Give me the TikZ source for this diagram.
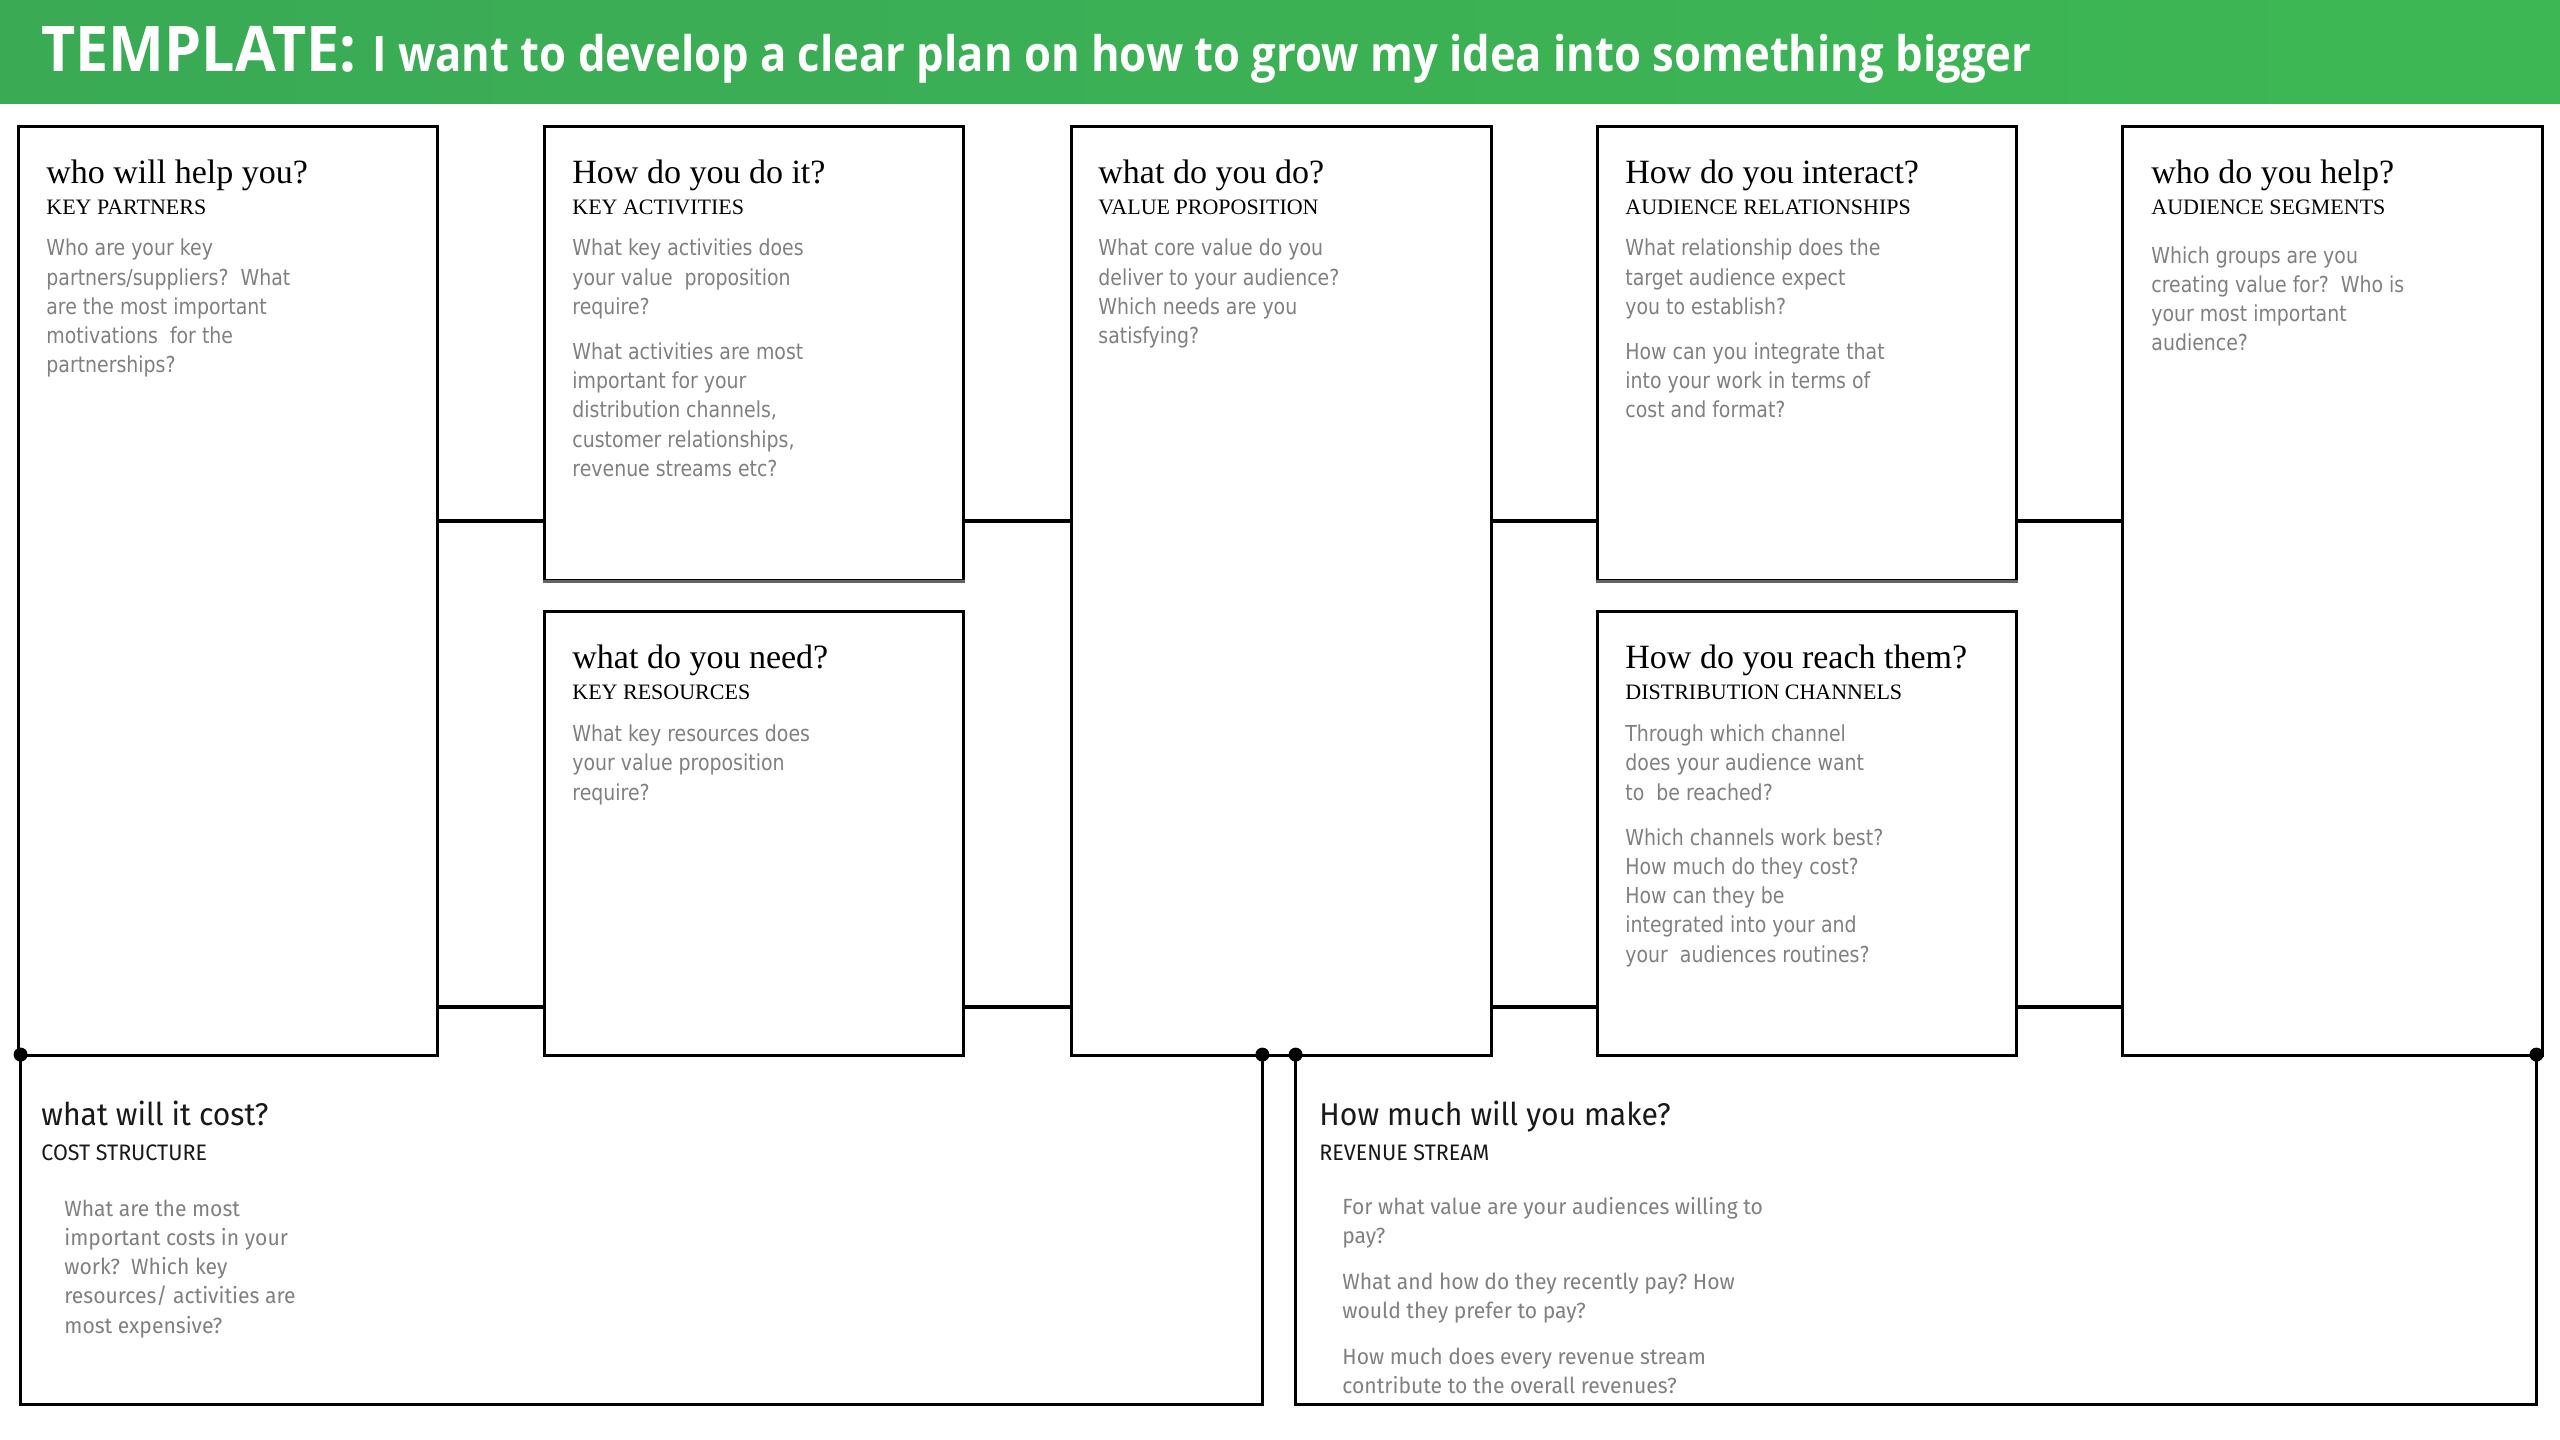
\documentclass[tikz,border=0pt]{standalone}
\usepackage{fontspec}
\usepackage{graphicx}
\usetikzlibrary{fit}

% Typefaces
\newfontfamily\titlefont{Open Sans}
\newfontfamily\headfont{Liberation Serif}
\newfontfamily\bodyfont{DejaVu Sans}[FakeStretch=0.86]
\newfontfamily\lowfont{Fira Sans}[FakeStretch=0.96]

\definecolor{bandleft}{RGB}{58,170,85}
\definecolor{bandright}{RGB}{61,183,84}
\definecolor{bodygray}{RGB}{128,128,128}
\definecolor{softline}{RGB}{100,100,100}

% stacked lines with the first baseline as the node baseline
\newcommand\lns[1]{\begin{tabular}[t]{@{}l@{}}#1\end{tabular}}

\frenchspacing

\begin{document}
\begin{tikzpicture}[x=0.5pt,y=-0.5pt,
  box/.style={draw=black, line width=1.5pt, inner sep=0pt},
  frame/.style={inner sep=0pt},
  link/.style={draw=black, line width=1.7pt},
  rim/.style={draw=black, line width=1.5pt},
  dot/.style={circle, fill=black, inner sep=0pt, minimum size=7pt},
  head/.style={anchor=base west, inner sep=0pt, font=\headfont\fontsize{17}{20}\selectfont},
  sub/.style={anchor=base west, inner sep=0pt, font=\headfont\fontsize{11}{13}\selectfont},
  body/.style={anchor=base west, inner sep=0pt, text=bodygray, font=\bodyfont\fontsize{11}{14.65}\selectfont},
  lowhead/.style={anchor=base west, inner sep=0pt, text=black!90, font=\lowfont\fontsize{15.7}{18}\selectfont},
  lowsub/.style={anchor=base west, inner sep=0pt, text=black!90, font=\lowfont\fontsize{11.2}{13}\selectfont},
  lowbody/.style={anchor=base west, inner sep=0pt, text=bodygray, font=\lowfont\fontsize{11}{14.65}\selectfont}
]
\useasboundingbox (0,0) rectangle (2560,1440);
\fill[white] (0,0) rectangle (2560,1440);

% title band
\shade[left color=bandleft, right color=bandright] (0,0) rectangle (2560,103);
\node[anchor=base west, inner sep=0pt, text=white, font=\titlefont\bfseries\fontsize{31.5}{36}\selectfont]
  (t1) at (41,71) {\resizebox{157.5pt}{\height}{TEMPLATE:}};
\node[anchor=base west, inner sep=0pt, text=white, font=\titlefont\bfseries\fontsize{24.5}{28}\selectfont]
  (t2) at (372,71) {\resizebox{829.5pt}{\height}{I want to develop a clear plan on how to grow my idea into something bigger}};

% canvas blocks
\node[box, fit={(18,126) (437,1055)}] (kp) {};
\node[box, fit={(544,126) (963,580)}] (ka) {};
\node[box, fit={(544,611) (963,1055)}] (kr) {};
\node[box, fit={(1071,126) (1491,1055)}] (vp) {};
\node[box, fit={(1597,126) (2016,580)}] (cr) {};
\node[box, fit={(1597,611) (2016,1055)}] (dc) {};
\node[box, fit={(2122,126) (2542,1055)}] (cs) {};
\draw[softline, line width=1.6pt] (ka.south west) -- (ka.south east);
\draw[softline, line width=1.6pt] (cr.south west) -- (cr.south east);

% links between blocks
\coordinate (upper) at (0,521);
\coordinate (lower) at (0,1007);
\draw[link] (kp.east |- upper) -- (ka.west |- upper);
\draw[link] (ka.east |- upper) -- (vp.west |- upper);
\draw[link] (vp.east |- upper) -- (cr.west |- upper);
\draw[link] (cr.east |- upper) -- (cs.west |- upper);
\draw[link] (kp.east |- lower) -- (kr.west |- lower);
\draw[link] (kr.east |- lower) -- (vp.west |- lower);
\draw[link] (vp.east |- lower) -- (dc.west |- lower);
\draw[link] (dc.east |- lower) -- (cs.west |- lower);

% lower blocks, open at the top
\node[frame, fit={(21,1055) (1262,1404)}] (cost) {};
\node[frame, fit={(1296,1055) (2536,1404)}] (rev) {};
\draw[rim] (cost.north west) |- (cost.south east) -- (cost.north east);
\draw[rim] (rev.north west) |- (rev.south east) -- (rev.north east);
\node[dot] (d1) at (cost.north west) {};
\node[dot] (d2) at (cost.north east) {};
\node[dot] (d3) at (rev.north west) {};
\node[dot] (d4) at (rev.north east) {};

% key partners
\node[head] (kph) at (46,183) {who will help you?};
\node[sub] (kps) at (46,214.5) {KEY PARTNERS};
\node[body] (kpb) at (46,255.7) {\lns{Who are your key\\partners/suppliers?\ \ What\\are the most important\\motivations\ \ for the\\partnerships?}};

% key activities
\node[head] (kah) at (572,183) {How do you do it?};
\node[sub] (kas) at (572,214.5) {KEY ACTIVITIES};
\node[body] (kab) at (572,255.7) {\lns{What key activities does\\your value\ \ proposition\\require?\\[7.8pt]What activities are most\\important for your\\distribution channels,\\customer relationships,\\revenue streams etc?}};

% key resources
\node[head] (krh) at (572,668) {what do you need?};
\node[sub] (krs) at (572,699) {KEY RESOURCES};
\node[body] (krb) at (572,741.5) {\lns{What key resources does\\your value proposition\\require?}};

% value proposition
\node[head] (vph) at (1098,183) {what do you do?};
\node[sub] (vps) at (1098,214.5) {VALUE PROPOSITION};
\node[body] (vpb) at (1098,255.7) {\lns{What core value do you\\deliver to your audience?\\Which needs are you\\satisfying?}};

% audience relationships
\node[head] (crh) at (1625,183) {How do you interact?};
\node[sub] (crs) at (1625,214.5) {AUDIENCE RELATIONSHIPS};
\node[body] (crb) at (1625,255.7) {\lns{What relationship does the\\target audience expect\\you to establish?\\[7.8pt]How can you integrate that\\into your work in terms of\\cost and format?}};

% distribution channels
\node[head] (dch) at (1625,668) {How do you reach them?};
\node[sub] (dcs) at (1625,699) {DISTRIBUTION CHANNELS};
\node[body] (dcb) at (1625,741.5) {\lns{Through which channel\\does your audience want\\to\ \ be reached?\\[7.8pt]Which channels work best?\\How much do they cost?\\How can they be\\integrated into your and\\your\ \ audiences routines?}};

% audience segments
\node[head] (csh) at (2151,183) {who do you help?};
\node[sub] (css) at (2151,214.5) {AUDIENCE SEGMENTS};
\node[body] (csb) at (2151,263) {\lns{Which groups are you\\creating value for?\ \ Who is\\your most important\\audience?}};

% cost structure
\node[lowhead] (coh) at (41,1125) {what will it cost?};
\node[lowsub] (cos) at (41,1160.5) {COST STRUCTURE};
\node[lowbody] (cob) at (64,1216) {\lns{What are the most\\important costs in your\\work?\ \ Which key\\resources/ activities are\\most expensive?}};

% revenue stream
\node[lowhead] (reh) at (1319,1125) {How much will you make?};
\node[lowsub] (res) at (1319,1160.5) {REVENUE STREAM};
\node[lowbody] (reb) at (1342,1214) {\lns{For what value are your audiences willing to\\pay?\\[8.25pt]What and how do they recently pay? How\\would they prefer to pay?\\[8.25pt]How much does every revenue stream\\contribute to the overall revenues?}};
\end{tikzpicture}
\end{document}
